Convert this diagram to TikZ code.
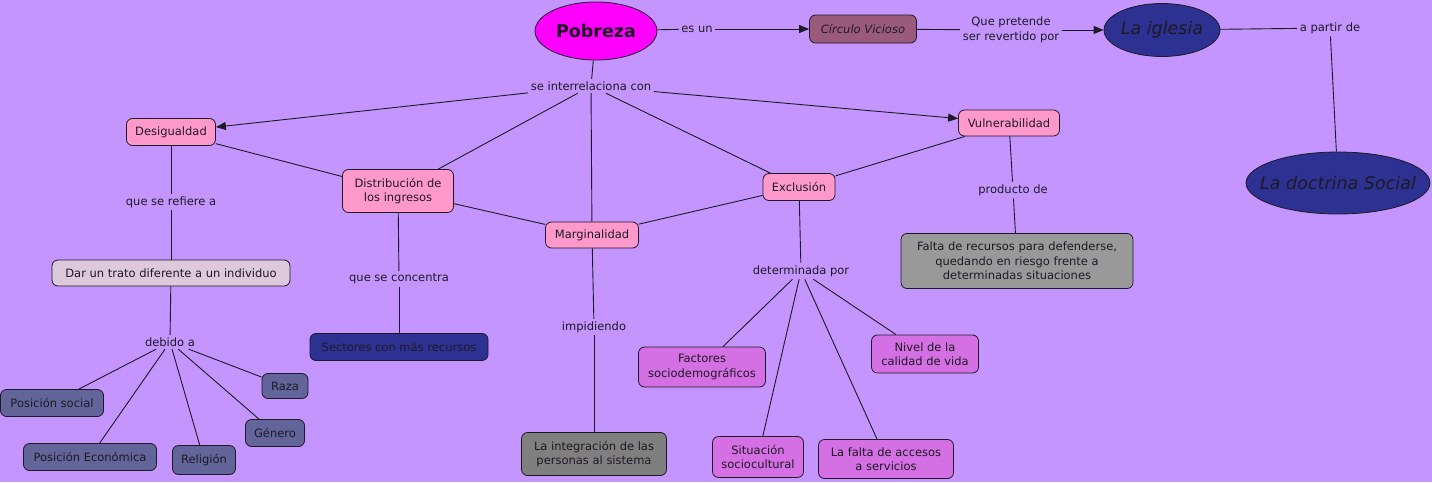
\documentclass[tikz,border=0pt]{standalone}
\usepackage{fontspec}
\setmainfont{DejaVu Sans}
\usetikzlibrary{arrows.meta,shapes.geometric,positioning}

\definecolor{fondo}{HTML}{C495FE}
\definecolor{fucsia}{HTML}{FF00FF}
\definecolor{rosa}{HTML}{FF99CC}
\definecolor{malva}{HTML}{9A5B7B}
\definecolor{azul}{HTML}{2D3292}
\definecolor{pizarra}{HTML}{63649A}
\definecolor{orquidea}{HTML}{D46FE4}
\definecolor{lila}{HTML}{DDC8DC}
\definecolor{grisos}{HTML}{7F7F7F}
\definecolor{griscl}{HTML}{999999}
\definecolor{tinta}{HTML}{1E1A24}

\newcommand{\chico}{\fontsize{11.5}{14.5}\selectfont}
\newcommand{\grande}{\fontsize{17.5}{20}\selectfont}

\tikzset{
  concepto/.style={draw=tinta, line width=0.8pt, rounded corners=6pt, fill=rosa,
    text=tinta, font=\chico, align=center, inner sep=2pt},
  elipse/.style={ellipse, draw=tinta, line width=0.8pt, text=tinta,
    inner xsep=-30pt, inner ysep=-6pt},
  frase/.style={text=tinta, font=\chico, align=center, inner sep=2.5pt},
  enlace/.style={draw=tinta, line width=0.9pt},
  flecha/.style={enlace, -{Triangle[length=10pt,width=8pt]}},
}

\begin{document}
\begin{tikzpicture}[x=1pt,y=-1pt]
\fill[fondo] (0,0) rectangle (1432,482);
\useasboundingbox (0,0) rectangle (1432,482);

% fila superior
\node[elipse, fill=fucsia, font=\grande\bfseries, minimum width=122pt, minimum height=58pt] (pobreza) at (596,31) {Pobreza};
\node[frase] (esun) at (697,29) {es un};
\node[concepto, fill=malva, font=\chico\itshape, minimum width=107pt, minimum height=28pt] (circulo) at (863,29) {Círculo Vicioso};
\node[frase] (pretende) at (1011,30) {Que pretende\\ser revertido por};
\node[elipse, fill=azul, font=\grande\itshape, minimum width=116pt, minimum height=53pt] (iglesia) at (1162,30) {La iglesia};
\node[frase] (apartir) at (1330,28) {a partir de};
\node[elipse, fill=azul, font=\grande\itshape, minimum width=184pt, minimum height=62pt] (doctrina) at (1338,183) {La doctrina Social};

% conceptos relacionados
\node[frase] (interrel) at (591,86) {se interrelaciona con};
\node[concepto, minimum width=89pt, minimum height=27pt] (desig) at (171,132) {Desigualdad};
\node[concepto, minimum width=111pt, minimum height=43pt] (distrib) at (398,191) {Distribución de\\los ingresos};
\node[concepto, minimum width=93pt, minimum height=26pt] (margin) at (592,235) {Marginalidad};
\node[concepto, minimum width=72pt, minimum height=27pt] (exclus) at (799,187) {Exclusión};
\node[concepto, minimum width=101pt, minimum height=26pt] (vulner) at (1009,123) {Vulnerabilidad};

% rama de la desigualdad
\node[frase] (refiere) at (171,202) {que se refiere a};
\node[concepto, fill=lila, minimum width=238pt, minimum height=26pt] (trato) at (171,273) {Dar un trato diferente a un individuo};
\node[frase] (debido) at (170,342) {debido a};
\node[concepto, fill=pizarra, minimum width=46pt, minimum height=25pt] (raza) at (285,386) {Raza};
\node[concepto, fill=pizarra, minimum width=103pt, minimum height=27pt] (possoc) at (52,403) {Posición social};
\node[concepto, fill=pizarra, minimum width=59pt, minimum height=27pt] (genero) at (275,433) {Género};
\node[concepto, fill=pizarra, minimum width=133pt, minimum height=27pt] (poseco) at (90,457) {Posición Económica};
\node[concepto, fill=pizarra, minimum width=63pt, minimum height=29pt] (religion) at (204,460) {Religión};

% rama de la distribucion
\node[frase] (concentra) at (399,279) {que se concentra};
\node[concepto, fill=azul, minimum width=178pt, minimum height=27pt] (sectores) at (399,347) {Sectores con más recursos};

% rama de la marginalidad
\node[frase] (impide) at (594,327) {impidiendo};
\node[concepto, fill=grisos, minimum width=145pt, minimum height=43pt] (integra) at (594,454) {La integración de las\\personas al sistema};

% rama de la exclusion
\node[frase] (determ) at (801,271) {determinada por};
\node[concepto, fill=orquidea, minimum width=127pt, minimum height=40pt] (factores) at (702,367) {Factores\\sociodemográficos};
\node[concepto, fill=orquidea, minimum width=107pt, minimum height=38pt] (nivel) at (925,354) {Nivel de la\\calidad de vida};
\node[concepto, fill=orquidea, minimum width=91pt, minimum height=41pt] (situac) at (758,457) {Situación\\sociocultural};
\node[concepto, fill=orquidea, minimum width=135pt, minimum height=39pt] (accesos) at (886,459) {La falta de accesos\\a servicios};

% rama de la vulnerabilidad
\node[frase] (producto) at (1013,190) {producto de};
\node[concepto, fill=griscl, minimum width=232pt, minimum height=55pt] (falta) at (1017,261) {Falta de recursos para defenderse,\\quedando en riesgo frente a\\determinadas situaciones};

% enlaces
\draw[enlace] (pobreza) -- (esun);
\draw[flecha] (esun) -- (circulo);
\draw[enlace] (circulo) -- (pretende);
\draw[flecha] (pretende) -- (iglesia);
\draw[enlace] (iglesia) -- (apartir);
\draw[enlace] (apartir) -- (doctrina);
\draw[enlace] (pobreza) -- (interrel);
\draw[flecha] (interrel) -- (desig);
\draw[flecha] (interrel) -- (vulner);
\draw[enlace] (interrel) -- (distrib);
\draw[enlace] (interrel) -- (margin);
\draw[enlace] (interrel) -- (exclus);
\draw[enlace] (desig) -- (distrib);
\draw[enlace] (distrib) -- (margin);
\draw[enlace] (margin) -- (exclus);
\draw[enlace] (exclus) -- (vulner);
\draw[enlace] (desig) -- (refiere);
\draw[enlace] (refiere) -- (trato);
\draw[enlace] (trato) -- (debido);
\draw[enlace] (debido) -- (possoc);
\draw[enlace] (debido) -- (poseco);
\draw[enlace] (debido) -- (religion);
\draw[enlace] (debido) -- (genero);
\draw[enlace] (debido) -- (raza);
\draw[enlace] (distrib) -- (concentra);
\draw[enlace] (concentra) -- (sectores);
\draw[enlace] (margin) -- (impide);
\draw[enlace] (impide) -- (integra);
\draw[enlace] (exclus) -- (determ);
\draw[enlace] (determ) -- (factores);
\draw[enlace] (determ) -- (situac);
\draw[enlace] (determ) -- (accesos);
\draw[enlace] (determ) -- (nivel);
\draw[enlace] (vulner) -- (producto);
\draw[enlace] (producto) -- (falta);
\end{tikzpicture}
\end{document}
